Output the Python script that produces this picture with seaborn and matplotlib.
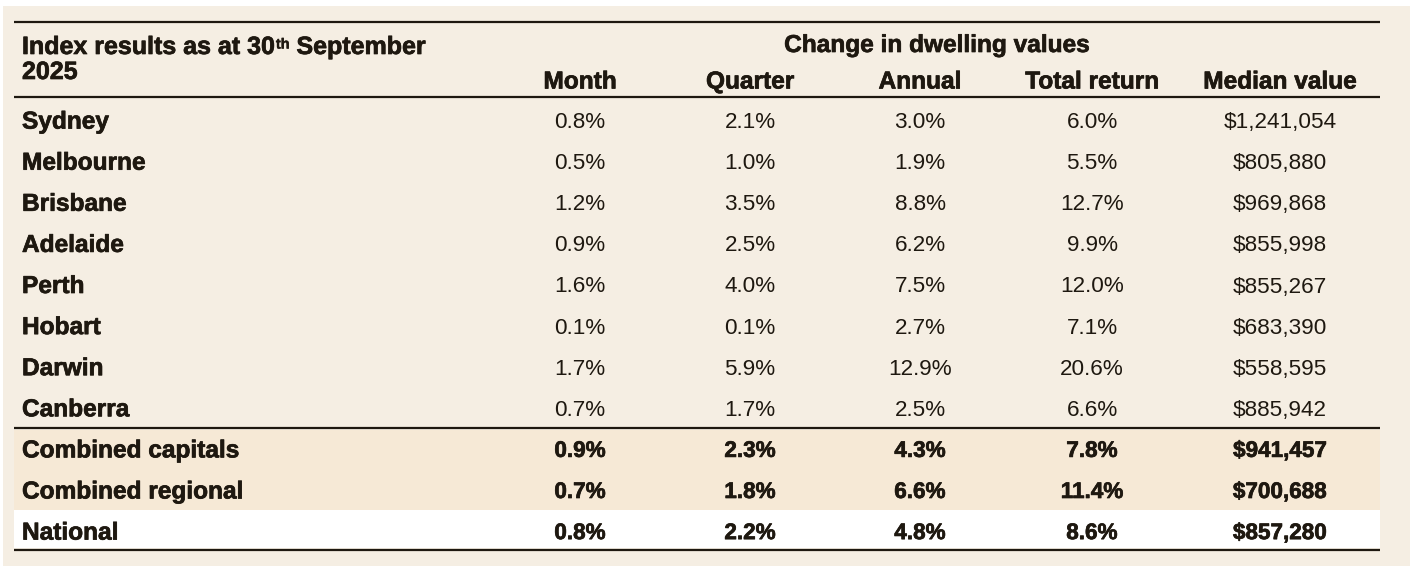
import matplotlib
matplotlib.use("Agg")
import matplotlib.pyplot as plt
import matplotlib.patheffects as pe
import seaborn as sns
import pandas as pd

# Table content
title_main = "Index results as at 30"
title_sup = "th"
title_rest = " September"
title_line2 = "2025"
group_header = "Change in dwelling values"
columns = ["Month", "Quarter", "Annual", "Total return", "Median value"]
regions = ["Sydney", "Melbourne", "Brisbane", "Adelaide", "Perth", "Hobart",
           "Darwin", "Canberra", "Combined capitals", "Combined regional", "National"]
month = ["0.8%", "0.5%", "1.2%", "0.9%", "1.6%", "0.1%", "1.7%", "0.7%", "0.9%", "0.7%", "0.8%"]
quarter = ["2.1%", "1.0%", "3.5%", "2.5%", "4.0%", "0.1%", "5.9%", "1.7%", "2.3%", "1.8%", "2.2%"]
annual = ["3.0%", "1.9%", "8.8%", "6.2%", "7.5%", "2.7%", "12.9%", "2.5%", "4.3%", "6.6%", "4.8%"]
total_return = ["6.0%", "5.5%", "12.7%", "9.9%", "12.0%", "7.1%", "20.6%", "6.6%", "7.8%", "11.4%", "8.6%"]
median_value = ["$1,241,054", "$805,880", "$969,868", "$855,998", "$855,267", "$683,390",
                "$558,595", "$885,942", "$941,457", "$700,688", "$857,280"]
bold_rows = ["Combined capitals", "Combined regional", "National"]

df = pd.DataFrame({"Month": month, "Quarter": quarter, "Annual": annual,
                   "Total return": total_return, "Median value": median_value},
                  index=regions)

# Layout (pixels)
W, H = 1410, 576
BG = "#f5eee3"
BAND = "#f6e9d6"
INK = "#1e1810"
col_x = [580, 750, 920, 1092, 1280]
label_x = 22
row_y0, row_h = 128.6, 41.1   # baselines
line_x0, line_x1 = 14, 1380
BOLD_SIZE = 17.6
NUM_SIZE = 16.2
heavy = [pe.withStroke(linewidth=0.5, foreground=INK)]

sns.set_theme(style="white")
plt.rcParams["font.family"] = ["Liberation Sans", "DejaVu Sans"]

fig = plt.figure(figsize=(W / 100, H / 100), dpi=100)
fig.patch.set_facecolor("white")
ax = fig.add_axes([0, 0, 1, 1])
ax.set_xlim(0, W)
ax.set_ylim(H, 0)
ax.axis("off")


def btext(x, y, s, **kw):
    kw.setdefault("fontsize", BOLD_SIZE)
    return ax.text(x, y, s, fontweight="bold", color=INK, va="baseline",
                   path_effects=heavy, **kw)


# page background and row shading
ax.fill_between([3, W], 6, 566, color=BG, lw=0)
ax.fill_between([line_x0, line_x1], 430, 510, color=BAND, lw=0)
ax.fill_between([line_x0, line_x1], 510, 548, color="white", lw=0)

# rules
for y in [22, 97, 428, 550]:
    ax.plot([line_x0, line_x1], [y, y], color=INK, lw=1.6, solid_capstyle="butt")

# title with superscript
fig.canvas.draw()
r = fig.canvas.get_renderer()
inv = ax.transData.inverted()
t1 = btext(label_x, 54, title_main, fontsize=18)
x_end = inv.transform(t1.get_window_extent(r).get_points())[1][0]
t2 = ax.text(x_end + 1, 37.5, title_sup, fontsize=10.5, fontweight="bold", color=INK,
             va="top", path_effects=[pe.withStroke(linewidth=0.3, foreground=INK)])
x_end = inv.transform(t2.get_window_extent(r).get_points())[1][0]
btext(x_end, 54, title_rest, fontsize=18)
btext(label_x, 79, title_line2, fontsize=18)

btext(937, 52, group_header, ha="center")
for cx, c in zip(col_x, columns):
    btext(cx, 88.5, c, ha="center")

for i, reg in enumerate(df.index):
    y = row_y0 + i * row_h
    btext(label_x, y, reg)
    is_bold = reg in bold_rows
    for cx, c in zip(col_x, df.columns):
        if is_bold:
            btext(cx, y - 0.5, df.loc[reg, c], fontsize=NUM_SIZE, ha="center")
        else:
            ax.text(cx, y - 0.5, df.loc[reg, c], fontsize=NUM_SIZE, color=INK,
                    ha="center", va="baseline")

fig.savefig("out.png", dpi=100, facecolor="white")
